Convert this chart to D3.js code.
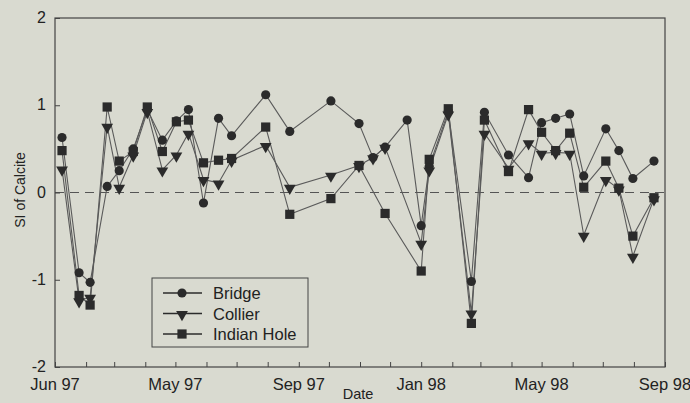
<!DOCTYPE html>
<html><head><meta charset="utf-8">
<script src="https://cdn.jsdelivr.net/npm/d3@7"></script>
<style>
html,body{margin:0;padding:0;background:#d9dad0;}
svg{display:block;}
text{font-family:"Liberation Sans",Arial,sans-serif;fill:#222;}
</style></head>
<body>
<svg id="chart" width="690" height="403"></svg>
<script>
// Sampling dates
const dates = ["1997-01-08","1997-01-25","1997-02-05","1997-02-22","1997-03-06","1997-03-20","1997-04-03","1997-04-18","1997-05-02","1997-05-14","1997-05-29","1997-06-13","1997-06-26","1997-07-30","1997-08-23","1997-10-03","1997-10-31","1997-11-14","1997-11-26","1997-12-18","1998-01-01","1998-01-09","1998-01-28","1998-02-20","1998-03-05","1998-03-29","1998-04-18","1998-05-01","1998-05-15","1998-05-29","1998-06-12","1998-07-04","1998-07-17","1998-07-31","1998-08-21"];
// Saturation index of calcite per site (null = not sampled)
const bridge = [0.63,-0.92,-1.03,0.07,0.25,0.50,0.95,0.60,0.82,0.95,-0.12,0.85,0.65,1.12,0.70,1.05,0.79,0.40,0.52,0.83,-0.38,0.30,0.93,-1.02,0.92,0.43,0.17,0.80,0.85,0.90,0.19,0.73,0.48,0.16,0.36];
const collier = [0.27,-1.24,-1.20,0.76,0.06,0.43,0.93,0.26,0.43,0.68,0.15,0.11,0.37,0.54,0.06,0.20,0.31,0.40,0.52,null,-0.58,0.26,0.90,-1.38,0.68,0.28,0.57,0.45,0.46,0.45,-0.49,0.15,0.04,-0.73,-0.07];
const indianHole = [0.48,-1.18,-1.29,0.98,0.36,0.47,0.98,0.47,0.81,0.83,0.34,0.37,0.39,0.75,-0.25,-0.07,0.31,null,-0.24,null,-0.90,0.38,0.96,-1.50,0.83,0.24,0.95,0.69,0.48,0.68,0.06,0.36,0.05,-0.50,-0.06];
const seriesNames = ["Bridge","Collier","Indian Hole"];
const markers = ["circle","triangle","square"];
const xTickDates = ["1997-01-01","1997-05-01","1997-09-01","1998-01-01","1998-05-01","1998-09-01"];
const xTickLabels = ["Jun 97","May 97","Sep 97","Jan 98","May 98","Sep 98"];
const yTicks = [-2,-1,0,1,2];

const parse = d3.timeParse("%Y-%m-%d");
const svg = d3.select("#chart");
const L = 55, R = 665, T = 18, B = 367;
const x = d3.scaleTime().domain([parse("1997-01-01"), parse("1998-09-01")]).range([L, R]);
const y = d3.scaleLinear().domain([-2, 2]).range([B, T]);

const ink = "#2b2b2b", lineCol = "#5a5a5a";

// Zero dashed line
svg.append("line").attr("x1", L).attr("x2", R).attr("y1", y(0)).attr("y2", y(0))
  .attr("stroke", "#555").attr("stroke-width", 1.2).attr("stroke-dasharray", "9,6");

// Frame
svg.append("rect").attr("x", L).attr("y", T).attr("width", R - L).attr("height", B - T)
  .attr("fill", "none").attr("stroke", "#444").attr("stroke-width", 1.2);

// Bottom axis: monthly inward ticks
const months = d3.timeMonth.range(parse("1997-01-01"), d3.timeDay.offset(parse("1998-09-01"), 1));
const xAxis = d3.axisBottom(x).tickValues(months).tickSizeInner(-5).tickSizeOuter(0).tickFormat("");
const gx = svg.append("g").attr("transform", `translate(0,${B})`).call(xAxis);
gx.select(".domain").remove();
gx.selectAll("line").attr("stroke", "#444");
const labelMap = new Map(xTickDates.map((d, i) => [+parse(d), xTickLabels[i]]));
svg.append("g").selectAll("text").data(xTickDates).join("text")
  .attr("x", d => x(parse(d))).attr("y", B + 23)
  .attr("text-anchor", "middle").attr("font-size", 16.5)
  .text(d => labelMap.get(+parse(d)));

// Left axis
const yAxis = d3.axisLeft(y).tickValues(yTicks).tickSizeInner(-5).tickSizeOuter(0).tickFormat("");
const gy = svg.append("g").attr("transform", `translate(${L},0)`).call(yAxis);
gy.select(".domain").remove();
gy.selectAll("line").attr("stroke", "#444");
svg.append("g").selectAll("text").data(yTicks).join("text")
  .attr("x", 46).attr("y", d => y(d) + 5).attr("text-anchor", "end").attr("font-size", 16)
  .text(d => d3.format("d")(d).replace("−", "-"));

// Axis titles
svg.append("text").attr("transform", `translate(25,190) rotate(-90)`).attr("text-anchor", "middle")
  .attr("font-size", 14).text("SI of Calcite");
svg.append("text").attr("x", 358).attr("y", 399).attr("text-anchor", "middle").attr("font-size", 14.5).text("Date");

// Marker drawing
const sym = {
  circle: d3.symbol().type(d3.symbolCircle).size(66),
  square: d3.symbol().type(d3.symbolSquare).size(85),
  triangle: d3.symbol().type(d3.symbolTriangle).size(60)
};
function drawMarker(g, type, cx, cy) {
  const p = g.append("path").attr("d", sym[type]()).attr("fill", ink);
  if (type === "triangle") p.attr("transform", `translate(${cx},${cy + 1}) rotate(180)`);
  else p.attr("transform", `translate(${cx},${cy})`);
}

const allSeries = [bridge, collier, indianHole];
const line = d3.line().x(d => x(d.date)).y(d => y(d.v));
allSeries.forEach((vals, i) => {
  const pts = dates.map((d, j) => ({date: parse(d), v: vals[j]})).filter(p => p.v !== null);
  svg.append("path").datum(pts).attr("d", line).attr("fill", "none")
    .attr("stroke", lineCol).attr("stroke-width", 1.1);
});
allSeries.forEach((vals, i) => {
  const g = svg.append("g");
  dates.forEach((d, j) => {
    if (vals[j] !== null) drawMarker(g, markers[i], x(parse(d)), y(vals[j]));
  });
});

// Legend
const lg = svg.append("g");
lg.append("rect").attr("x", 152).attr("y", 278).attr("width", 156).attr("height", 69)
  .attr("fill", "#d9dad0").attr("stroke", "#444").attr("stroke-width", 1);
seriesNames.forEach((name, i) => {
  const cy = 293 + i * 20.5;
  lg.append("line").attr("x1", 163).attr("x2", 202).attr("y1", cy).attr("y2", cy)
    .attr("stroke", ink).attr("stroke-width", 1.5);
  drawMarker(lg, markers[i], 182, cy);
  lg.append("text").attr("x", 213).attr("y", cy + 6).attr("font-size", 16.5).text(name);
});
</script>
</body></html>
